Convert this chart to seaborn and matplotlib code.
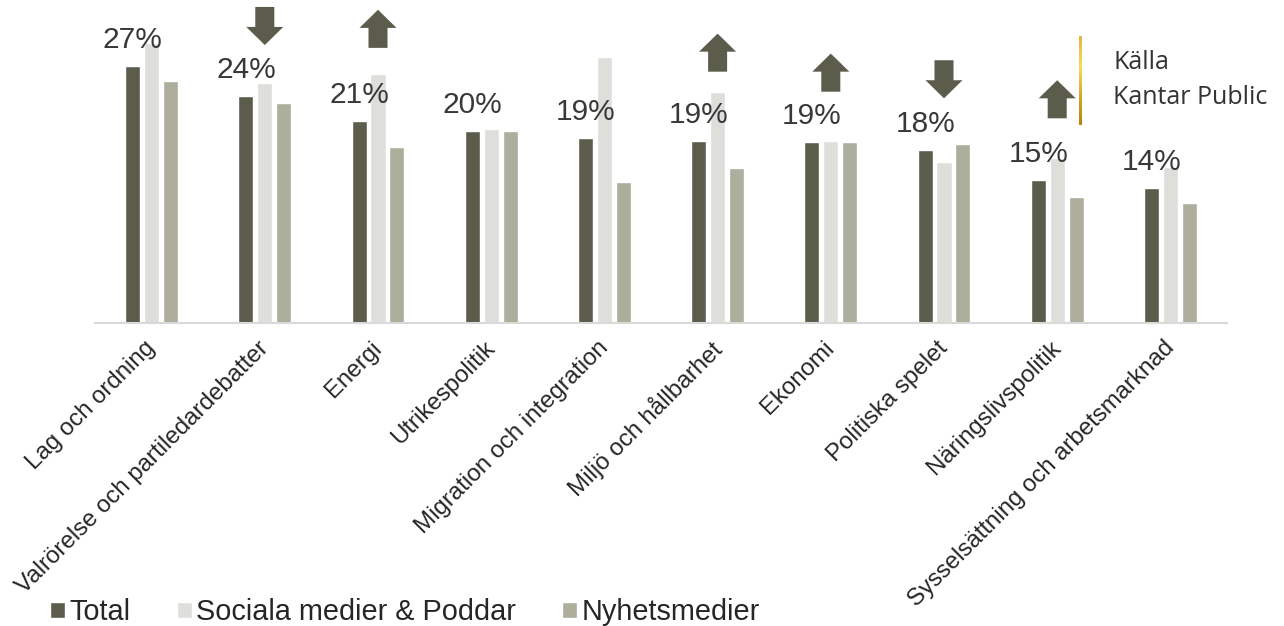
import numpy as np
import pandas as pd
import matplotlib
matplotlib.use("Agg")
import matplotlib.pyplot as plt
import seaborn as sns
from matplotlib.patches import FancyArrow
from matplotlib.colors import LinearSegmentedColormap
from matplotlib.transforms import ScaledTranslation

# ---------------- data ----------------
categories = ["Lag och ordning", "Valrörelse och partiledardebatter", "Energi",
              "Utrikespolitik", "Migration och integration", "Miljö och hållbarhet",
              "Ekonomi", "Politiska spelet", "Näringslivspolitik",
              "Sysselsättning och arbetsmarknad"]
series_names = ["Total", "Sociala medier & Poddar", "Nyhetsmedier"]
total = [27.0, 23.8, 21.2, 20.2, 19.4, 19.1, 19.0, 18.2, 15.0, 14.2]
social = [29.4, 25.2, 26.2, 20.4, 27.9, 24.3, 19.1, 16.9, 17.3, 16.4]
news = [25.4, 23.1, 18.5, 20.2, 14.8, 16.3, 19.0, 18.8, 13.2, 12.6]
# trend arrows: direction per category (None = no arrow) and tail level (%)
arrow_dir = [None, "down", "up", None, None, "up", "up", "down", "up", None]
arrow_tail = [None, 33.2, 28.9, None, None, 26.4, 24.3, 27.6, 21.5, None]
source_lines = ["Källa", "Kantar Public"]

colors = ["#5b5c4c", "#dedfda", "#adae9c"]
arrow_color = "#5b5c4c"

df = pd.DataFrame({
    "category": np.repeat(categories, 3),
    "series": series_names * len(categories),
    "value": np.ravel(np.column_stack([total, social, news])),
})

# ---------------- style ----------------
sns.set_style("white")
plt.rcParams["font.family"] = ["Liberation Sans", "DejaVu Sans"]

W, H = 1284, 626
fig = plt.figure(figsize=(W / 100, H / 100), dpi=100)
ax_left, ax_right, ax_base = 95, 1227, 323
ax = fig.add_axes([ax_left / W, (H - ax_base) / H, (ax_right - ax_left) / W, ax_base / H])

sns.barplot(data=df, x="category", y="value", hue="series", palette=colors,
            width=0.5, gap=0.2, saturation=1, errorbar=None, ax=ax)

ymax = ax_base / 9.52
ax.set_ylim(0, ymax)
ax.set_xlim(-0.5, len(categories) - 0.5)

for s in ["top", "right", "left"]:
    ax.spines[s].set_visible(False)
ax.spines["bottom"].set_color("#d9d9d9")
ax.spines["bottom"].set_linewidth(1.5)
ax.set_yticks([])
ax.set_xlabel("")
ax.set_ylabel("")
ax.tick_params(axis="x", length=0, pad=10)
ax.set_xticks(range(len(categories)))
ax.set_xticklabels(categories, rotation=45, ha="right", rotation_mode="anchor",
                   fontsize=17.3, color="#262626")
shift = ScaledTranslation(-0.075, 0, fig.dpi_scale_trans)
for lab in ax.get_xticklabels():
    lab.set_transform(lab.get_transform() + shift)

# value labels over the Total bars
for patch, v in zip(ax.containers[0], total):
    cx = patch.get_x() + patch.get_width() / 2
    ax.annotate(f"{v:.0f}%", xy=(cx, patch.get_height()), xytext=(0, 13),
                textcoords="offset points", ha="center", va="baseline",
                fontsize=21.5, color="#383838")

# trend arrows
for i, (d, t) in enumerate(zip(arrow_dir, arrow_tail)):
    if d is None:
        continue
    dy = 4.0 if d == "up" else -4.0
    arr = FancyArrow(i, t, 0, dy, width=0.168, head_width=0.327, head_length=1.9,
                     length_includes_head=True, color=arrow_color, lw=0, clip_on=False)
    ax.add_patch(arr)

# legend
handles, labels = ax.get_legend_handles_labels()
if ax.get_legend() is not None:
    ax.get_legend().remove()
fig.legend(handles, labels, loc="lower left", bbox_to_anchor=(50 / W, 0 / H),
           ncol=3, frameon=False, fontsize=20.8, handlelength=0.52, handleheight=0.5,
           handletextpad=0.15, columnspacing=1.6, borderpad=0, borderaxespad=0,
           labelcolor="#262626")

# source box with gold gradient bar
gold = LinearSegmentedColormap.from_list("gold", ["#e6b43e", "#f8da5c", "#d9a82c", "#b8860b"])
gax = fig.add_axes([1079 / W, (H - 125) / H, 3 / W, 89 / H])
gax.imshow(np.linspace(0, 1, 100).reshape(-1, 1), aspect="auto", cmap=gold)
gax.set_axis_off()
fig.text(1113 / W, 1 - 69 / H, source_lines[0], fontsize=18, family=["Open Sans", "DejaVu Sans"],
         color="#333333", va="baseline")
fig.text(1113 / W, 1 - 104 / H, source_lines[1], fontsize=18, family=["Open Sans", "DejaVu Sans"],
         color="#333333", va="baseline")

fig.savefig("out.png", dpi=100)
